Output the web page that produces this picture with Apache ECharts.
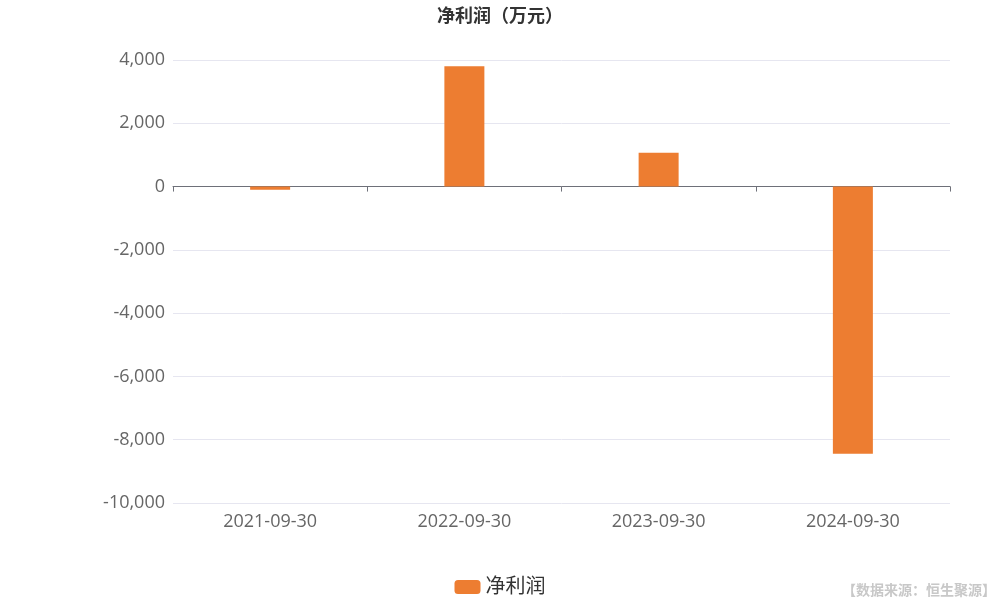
<!DOCTYPE html>
<html><head><meta charset="utf-8">
<script src="https://cdn.jsdelivr.net/npm/echarts@6/dist/echarts.min.js"></script>
<style>html,body{margin:0;padding:0;background:#fff}#c{width:1000px;height:600px}</style>
</head><body><div id="c"></div>
<script>
const categories = ['2021-09-30', '2022-09-30', '2023-09-30', '2024-09-30'];
const profit = [-100, 3800, 1070, -8440];
const seriesName = '净利润';
const titleText = '净利润（万元）';
const sourceText = '【数据来源：恒生聚源】';

const font = '"Open Sans", "Noto Sans CJK SC", sans-serif';
const chart = echarts.init(document.getElementById('c'));
chart.setOption({
  animation: false,
  textStyle: { fontFamily: font },
  title: {
    text: titleText, left: 'center', top: 3,
    textStyle: { fontSize: 18, fontWeight: 'bold', color: '#333', fontFamily: font }
  },
  graphic: [{
    type: 'text', right: 4, bottom: 2,
    style: { text: sourceText, fontSize: 14, fill: '#c8c8c8', fontFamily: font, fontWeight: 'bold' }
  }],
  legend: {
    top: 572, left: 'center', itemWidth: 26, itemHeight: 14, icon: 'roundRect', itemGap: 4,
    textStyle: { fontSize: 20, color: '#333', fontFamily: font },
    data: [seriesName]
  },
  grid: { left: 173, right: 50, top: 60, bottom: 97 },
  xAxis: [{
    type: 'category', data: categories, position: 'bottom',
    axisLine: { show: true, onZero: true, lineStyle: { color: '#6e7079' } },
    axisTick: { show: true, length: 5 },
    axisLabel: { show: false }
  }, {
    type: 'category', data: categories, position: 'bottom',
    axisLine: { show: false, onZero: false }, axisTick: { show: false },
    axisLabel: { fontSize: 18, color: '#666', margin: 10 }
  }],
  yAxis: {
    type: 'value', min: -10000, max: 4000, interval: 2000,
    axisLine: { show: false }, axisTick: { show: false },
    splitLine: { lineStyle: { color: '#e6e6f0' } },
    axisLabel: { fontSize: 18, color: '#666', margin: 8 }
  },
  series: [{
    name: seriesName, type: 'bar', data: profit, xAxisIndex: 0,
    barWidth: 40, itemStyle: { color: '#ed7d31' }
  }]
});
</script></body></html>
